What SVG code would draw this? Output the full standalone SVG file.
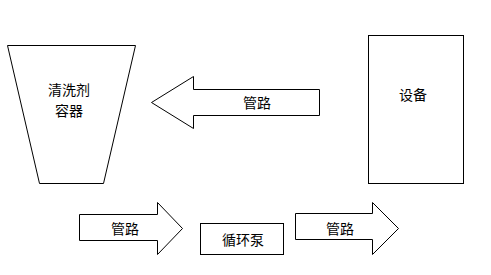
<svg xmlns="http://www.w3.org/2000/svg" width="491" height="275" viewBox="0 0 491 275">
<style>
.s{fill:#fff;stroke:#000;stroke-width:1}
.t{font-family:"Noto Sans CJK SC","Noto Sans",sans-serif;font-size:14px;fill:#000;text-anchor:middle;dominant-baseline:central}
</style>
<rect width="491" height="275" fill="#fff"/>
<g id="container">
<polygon class="s" points="7.5,45.5 135.5,45.5 103.5,183.5 39.5,183.5"/>
<text class="t" x="69" y="89">清洗剂</text>
<text class="t" x="69" y="110">容器</text>
</g>
<g id="device">
<rect class="s" x="368.5" y="35.5" width="95" height="148"/>
<text class="t" x="413" y="94">设备</text>
</g>
<g id="pump">
<rect class="s" x="200.5" y="223.5" width="83" height="31"/>
<text class="t" x="243" y="239">循环泵</text>
</g>
<g id="connectors">
<g id="pipe-top">
<polygon class="s" points="319.5,89.5 193.5,89.5 193.5,76.5 151.5,102.5 193.5,128.5 193.5,115.5 319.5,115.5"/>
<text class="t" x="257" y="102">管路</text>
</g>
<g id="pipe-left">
<polygon class="s" points="79.5,214.5 157.5,214.5 157.5,202.5 182.5,228.5 157.5,254.5 157.5,240.5 79.5,240.5"/>
<text class="t" x="125" y="228">管路</text>
</g>
<g id="pipe-right">
<polygon class="s" points="295.5,213.5 372.5,213.5 372.5,202.5 398.5,228.5 372.5,254.5 372.5,239.5 295.5,239.5"/>
<text class="t" x="340" y="228">管路</text>
</g>
</g>
</svg>
